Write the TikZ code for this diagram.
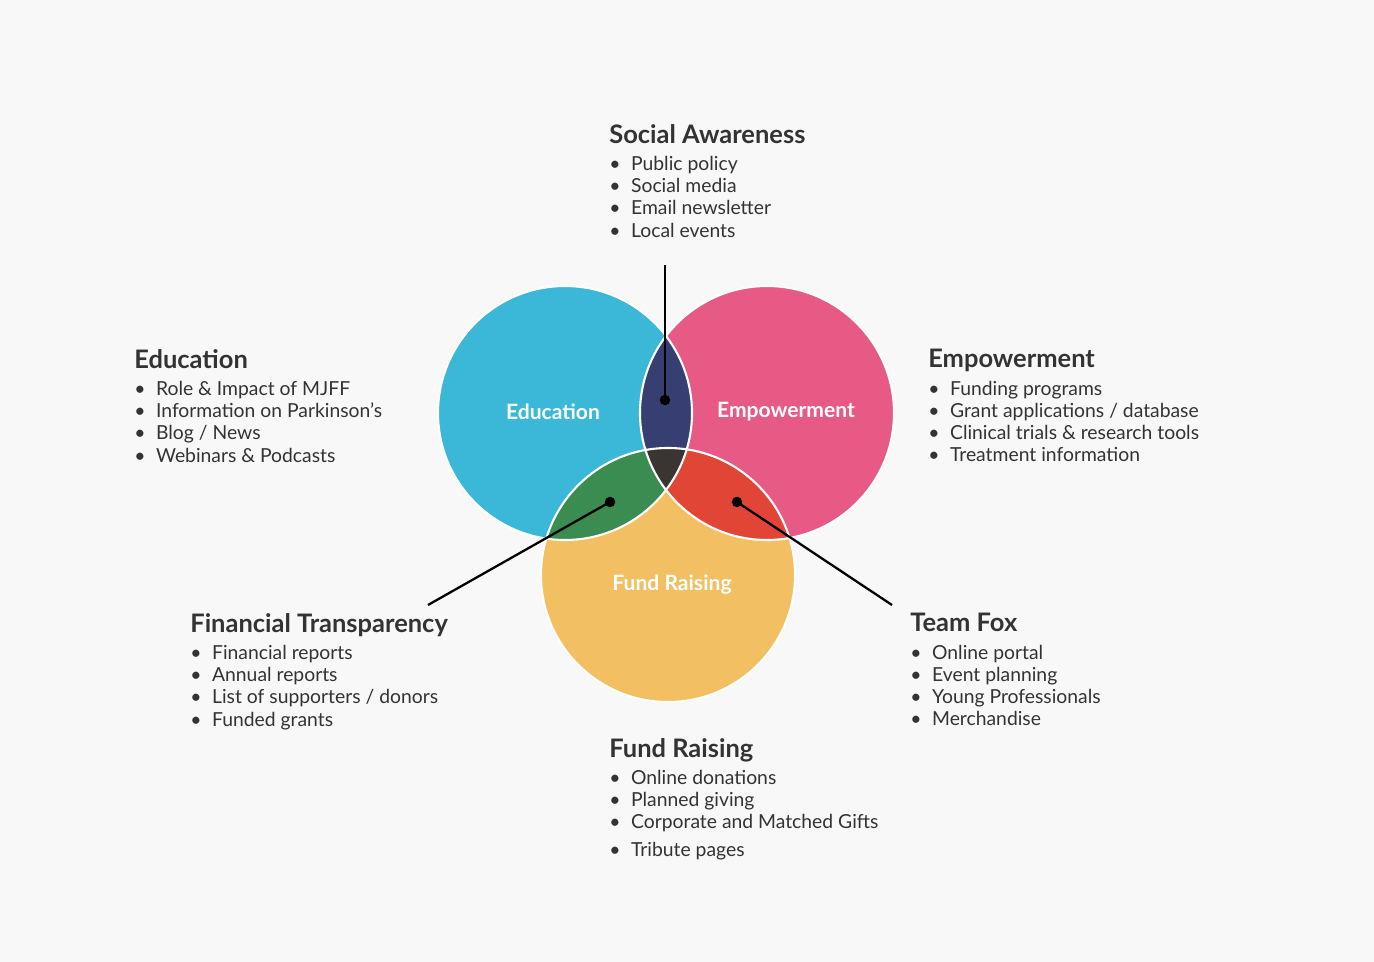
\documentclass[tikz,border=0pt]{standalone}
\usepackage{fontspec}
\setmainfont{Lato}
\definecolor{bg}{RGB}{248,248,248}
\definecolor{cblue}{RGB}{59,184,216}
\definecolor{cpink}{RGB}{230,90,133}
\definecolor{cyel}{RGB}{242,191,98}
\definecolor{cnavy}{RGB}{55,63,114}
\definecolor{cgreen}{RGB}{58,140,80}
\definecolor{cred}{RGB}{224,69,53}
\definecolor{cdark}{RGB}{58,53,48}
\begin{document}
\begin{tikzpicture}[x=0.02cm,y=-0.02cm,
  blk/.style={anchor=north west,inner sep=0pt,align=left,text=black!80,font=\fontsize{11}{12.6}\selectfont},
  clab/.style={text=white,font=\bfseries\fontsize{12}{14}\selectfont},
  conn/.style={line width=1.3pt,black},
  dot/.style={circle,fill=black,inner sep=0pt,minimum size=6pt}]
\useasboundingbox[fill=bg] (0,0) rectangle (1374,962);
\newcommand\ttl[1]{{\bfseries\fontsize{14.5}{17}\selectfont #1}\\[3pt]}
\newcommand\itm[1]{\textbullet\hspace{6pt}#1}
\def\CA{(565,413) circle (127)}
\def\CB{(767,413) circle (127)}
\def\CC{(668,575) circle (127)}
\fill[cblue] \CA;
\fill[cpink] \CB;
\fill[cyel] \CC;
\begin{scope}\clip \CA; \fill[cnavy] \CB; \end{scope}
\begin{scope}\clip \CA; \fill[cgreen] \CC; \end{scope}
\begin{scope}\clip \CB; \fill[cred] \CC; \end{scope}
\begin{scope}\clip \CA; \clip \CB; \fill[cdark] \CC; \end{scope}
\draw[white,line width=1.2pt] \CA \CB \CC;
\node[clab] (le) at (553,412) {Education};
\node[clab] (lm) at (786,412) {Empowerment};
\node[clab] (lf) at (672,585) {Fund Raising};
\node[dot] (d1) at (665,400) {};
\node[dot] (d2) at (610,502) {};
\node[dot] (d3) at (737,502) {};
\coordinate (e1) at (665,265);
\coordinate (e2) at (428,605);
\coordinate (e3) at (892,605);
\draw[conn] (d1.center) -- (e1);
\draw[conn] (d2.center) -- (e2);
\draw[conn] (d3.center) -- (e3);
\node[blk] (sa) at (609,124) {\ttl{Social Awareness}\itm{Public policy}\\\itm{Social media}\\\itm{Email newsletter}\\\itm{Local events}};
\node[blk] (ed) at (134,349) {\ttl{Education}\itm{Role \& Impact of MJFF}\\\itm{Information on Parkinson’s}\\\itm{Blog / News}\\\itm{Webinars \& Podcasts}};
\node[blk] (em) at (928,349) {\ttl{Empowerment}\itm{Funding programs}\\\itm{Grant applications / database}\\\itm{Clinical trials \& research tools}\\\itm{Treatment information}};
\node[blk] (ft) at (190,613) {\ttl{Financial Transparency}\itm{Financial reports}\\\itm{Annual reports}\\\itm{List of supporters / donors}\\\itm{Funded grants}};
\node[blk] (tf) at (910,613) {\ttl{Team Fox}\itm{Online portal}\\\itm{Event planning}\\\itm{Young Professionals}\\\itm{Merchandise}};
\node[blk] (fr) at (609,738) {\ttl{Fund Raising}\itm{Online donations}\\\itm{Planned giving}\\\itm{Corporate and Matched Gifts}\\[3pt]\itm{Tribute pages}};
\end{tikzpicture}
\end{document}
